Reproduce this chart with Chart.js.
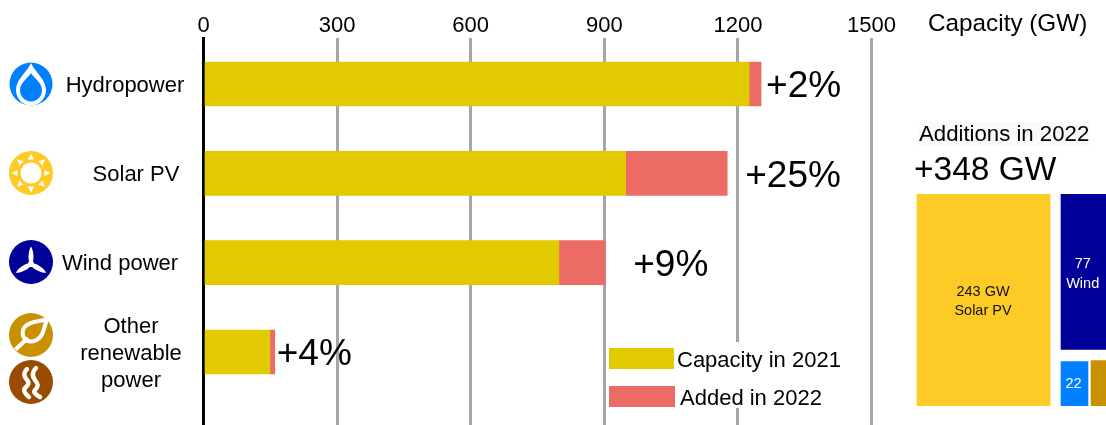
<!DOCTYPE html>
<html>
<head>
<meta charset="utf-8">
<script src="https://cdn.jsdelivr.net/npm/chart.js@4"></script>
<style>
  html, body { margin: 0; padding: 0; background: #fff; overflow: hidden; }
  body { position: relative; width: 1106px; height: 425px; font-family: "Liberation Sans", Arial, sans-serif; color: #000; }
  canvas { position: absolute; }
  #capacity { left: 0; top: 0; }
  #additions { left: 900px; top: 180px; }
  .text { position: absolute; white-space: nowrap; line-height: 1; }
  #legendBox { position: absolute; left: 609px; top: 342px; width: 236px; height: 66px; background: #fff; }
  .swatch { position: absolute; }
  svg.icon { position: absolute; left: 9px; width: 44px; height: 44px; }
</style>
</head>
<body>
<canvas id="capacity" width="1106" height="425"></canvas>

<svg class="icon" style="top:62px" viewBox="-22 -22 44 44">
  <circle r="21.5" fill="#0080ff"/>
  <path d="M0,-21 C3,-13 15,-5 15,6 C15,15 8,21.5 0,21.5 C-8,21.5 -15,15 -15,6 C-15,-5 -3,-13 0,-21 Z" fill="#fff"/>
  <path d="M0,-11 C3,-6 11,-1 11,6 C11,12.5 6,17.5 0,17.5 C-6,17.5 -11,12.5 -11,6 C-11,-1 -3,-6 0,-11 Z" fill="#0080ff"/>
</svg>
<svg class="icon" style="top:151px" viewBox="-22 -22 44 44">
  <circle r="22" fill="#fdca26"/>
  <circle r="10.5" fill="#fff"/>
  <g fill="#fff">
    <path d="M-3,-13.5 L3,-13.5 L0,-19.5 Z" transform="rotate(0)"/>
    <path d="M-3,-13.5 L3,-13.5 L0,-19.5 Z" transform="rotate(45)"/>
    <path d="M-3,-13.5 L3,-13.5 L0,-19.5 Z" transform="rotate(90)"/>
    <path d="M-3,-13.5 L3,-13.5 L0,-19.5 Z" transform="rotate(135)"/>
    <path d="M-3,-13.5 L3,-13.5 L0,-19.5 Z" transform="rotate(180)"/>
    <path d="M-3,-13.5 L3,-13.5 L0,-19.5 Z" transform="rotate(225)"/>
    <path d="M-3,-13.5 L3,-13.5 L0,-19.5 Z" transform="rotate(270)"/>
    <path d="M-3,-13.5 L3,-13.5 L0,-19.5 Z" transform="rotate(315)"/>
  </g>
</svg>
<svg class="icon" style="top:240px" viewBox="-22 -22 44 44">
  <circle r="22" fill="#000099"/>
  <g fill="#fff">
    <circle cy="2" r="3"/>
    <path d="M-1.6,-1 C-3.4,-7 -2.2,-14 0,-17.5 C2.2,-14 3.4,-7 1.6,-1 Z" transform="translate(0,2)"/>
    <path d="M-1.6,-1 C-3.4,-7 -2.2,-14 0,-17.5 C2.2,-14 3.4,-7 1.6,-1 Z" transform="translate(0,2) rotate(120)"/>
    <path d="M-1.6,-1 C-3.4,-7 -2.2,-14 0,-17.5 C2.2,-14 3.4,-7 1.6,-1 Z" transform="translate(0,2) rotate(240)"/>
  </g>
</svg>
<svg class="icon" style="top:313px" viewBox="-22 -22 44 44">
  <circle r="22" fill="#c99100"/>
  <path d="M15.5,-15.5 C8,-14 -6,-13 -8,-5 C-9.5,0 -7,5 -3,6 C4,8 10,3 12,-3 C13,-7 15,-11 15.5,-15.5 Z" fill="none" stroke="#fff" stroke-width="4"/>
  <path d="M-15.5,14.5 L-3,3" fill="none" stroke="#fff" stroke-width="4.2"/>
</svg>
<svg class="icon" style="top:360px" viewBox="-22 -22 44 44">
  <circle r="22" fill="#994c00"/>
  <path d="M-4,-13 C-8,-9 -7,-5 -4,-2 C-1,1 -3,3 -6,6 C-8,8 -6,12 -2,15" fill="none" stroke="#fff" stroke-width="4.4" stroke-linecap="round"/>
  <path d="M5,-14 C1,-10 1,-6 4,-2 C7,2 8,4 4,8 C2,10 4,12 9,15" fill="none" stroke="#fff" stroke-width="4.4" stroke-linecap="round"/>
</svg>

<div id="legendBox"></div>
<div class="swatch" style="left:609px;top:348px;width:65px;height:21px;background:#e2ca00"></div>
<div class="swatch" style="left:609px;top:386px;width:66px;height:21px;background:#ed6b65"></div>
<div class="text" style="left:677px;top:349px;font-size:22px">Capacity in 2021</div>
<div class="text" style="left:680px;top:387px;font-size:22px">Added in 2022</div>

<div class="text" style="left:928px;top:11px;font-size:24.3px">Capacity (GW)</div>
<div class="text" style="left:919px;top:122px;width:171px;height:24px;line-height:24px;font-size:22.2px;background:#fafafa">Additions in 2022</div>
<div class="text" style="left:914px;top:152px;font-size:33.5px">+348 GW</div>

<canvas id="additions" width="206" height="245"></canvas>

<script>
// Installed renewable capacity, in GW
const categories = ['Hydropower', 'Solar PV', 'Wind power', 'Other renewable power'];
const capacity2021 = [1225, 948, 798, 149];
const added2022 = [27, 228, 104, 11];
const growthLabels = ['+2%', '+25%', '+9%', '+4%'];

// Capacity added in 2022, in GW
const additionNames = ['Solar PV', 'Wind', 'Hydropower', 'Other'];
const additionValues = [243, 77, 22, 6];

const FONT = '"Liberation Sans", Arial, sans-serif';
const YELLOW = '#e2ca00', CORAL = '#ed6b65', GRID = '#a6a6a6';

// Category names to the left of the axis, one entry per drawn line
const nameLayout = [
  { centre: 125, lines: [categories[0]] },
  { centre: 136, lines: [categories[1]] },
  { centre: 120, lines: [categories[2]] },
  { centre: 131, lines: ['Other', 'renewable', 'power'] }
];
const growthGap = [5, 18, 28, 2];

const rowLabels = {
  id: 'rowLabels',
  afterDatasetsDraw(chart) {
    const { ctx, scales: { x, y } } = chart;
    ctx.save();
    ctx.fillStyle = '#000';
    ctx.textBaseline = 'middle';
    categories.forEach((_, i) => {
      const cy = y.getPixelForValue(i);
      ctx.font = '22px ' + FONT;
      ctx.textAlign = 'center';
      const { centre, lines } = nameLayout[i];
      lines.forEach((line, k) => {
        ctx.fillText(line, centre, cy + 1.5 + (k - (lines.length - 1) / 2) * 27);
      });
      ctx.font = '37px ' + FONT;
      ctx.textAlign = 'left';
      const end = x.getPixelForValue(capacity2021[i] + added2022[i]);
      ctx.fillText(growthLabels[i], end + growthGap[i], cy + 3);
    });
    ctx.restore();
  }
};

new Chart(document.getElementById('capacity'), {
  type: 'bar',
  plugins: [rowLabels],
  data: {
    datasets: [
      { label: 'Capacity in 2021', stack: 'total', backgroundColor: YELLOW,
        data: capacity2021.map((v, i) => ({ x: v, y: i })) },
      { label: 'Added in 2022', stack: 'total', backgroundColor: CORAL,
        data: added2022.map((v, i) => ({ x: v, y: i })) }
    ]
  },
  options: {
    indexAxis: 'y',
    responsive: false,
    animation: false,
    barThickness: 44,
    layout: { padding: { left: 203.5, right: 234.5, top: 0, bottom: 0 } },
    plugins: { legend: { display: false }, tooltip: { enabled: false } },
    scales: {
      x: {
        type: 'linear',
        position: 'top',
        stacked: true,
        min: 0,
        max: 1500,
        afterFit(scale) { scale.height = 38; },
        ticks: { stepSize: 300, color: '#000', padding: -1, maxRotation: 0,
                 callback: v => String(v),
                 font: { family: FONT, size: 22 } },
        grid: { color: GRID, lineWidth: 3, drawTicks: false },
        border: { display: false }
      },
      y: {
        type: 'linear',
        offset: false,
        bounds: 'data',
        stacked: true,
        reverse: true,
        min: -0.515,
        max: 3.817,
        z: 1,
        afterFit(scale) { scale.width = 0; },
        ticks: { display: false },
        grid: { display: false },
        border: { display: true, color: '#000', width: 3 }
      }
    }
  }
});

// Treemap of the 2022 additions: each cell is a floating bar on its own height scale
const cellLabels = {
  id: 'cellLabels',
  afterDatasetsDraw(chart) {
    const { ctx, scales: { x, solar, wind } } = chart;
    ctx.save();
    ctx.font = '14.5px ' + FONT;
    ctx.textAlign = 'center';
    ctx.textBaseline = 'middle';
    const solarMid = solar.getPixelForValue(additionValues[0] / 2);
    ctx.fillStyle = '#111';
    ctx.fillText(additionValues[0] + ' GW', x.getPixelForValue(83), solarMid - 8.5);
    ctx.fillText(additionNames[0], x.getPixelForValue(83), solarMid + 10.5);
    ctx.fillStyle = '#fff';
    const windMid = wind.getPixelForValue(28 + additionValues[1] / 2);
    ctx.fillText(String(additionValues[1]), x.getPixelForValue(182.7), windMid - 7.5);
    ctx.fillText(additionNames[1], x.getPixelForValue(182.7), windMid + 12);
    ctx.fillText(String(additionValues[2]), x.getPixelForValue(173.5), wind.getPixelForValue(additionValues[2] / 2));
    ctx.restore();
  }
};

new Chart(document.getElementById('additions'), {
  type: 'bar',
  plugins: [cellLabels],
  data: {
    datasets: [
      { label: additionNames[0], yAxisID: 'solar', backgroundColor: '#fdca26', barThickness: 133,
        data: [{ x: 83.5, y: [0, additionValues[0]] }] },
      { label: additionNames[1], yAxisID: 'wind', backgroundColor: '#000099', barThickness: 57,
        data: [{ x: 189.5, y: [28, 28 + additionValues[1]] }] },
      { label: additionNames[2], yAxisID: 'wind', backgroundColor: '#0080ff', barThickness: 27,
        data: [{ x: 174.5, y: [0, additionValues[2]] }] },
      { label: additionNames[3], yAxisID: 'lower', backgroundColor: '#c99100', barThickness: 27,
        data: [{ x: 204.5, y: [0, additionValues[3]] }] }
    ]
  },
  options: {
    responsive: false,
    animation: false,
    grouped: false,
    layout: { padding: { left: 0, right: 0, top: 14, bottom: 19 } },
    plugins: { legend: { display: false }, tooltip: { enabled: false } },
    scales: {
      x: { type: 'linear', offset: false, min: 0, max: 206, display: false },
      solar: { min: 0, max: 243, bounds: 'data', display: false },
      wind: { min: 0, max: 105, bounds: 'data', display: false },
      lower: { min: 0, max: 28, bounds: 'data', display: false }
    }
  }
});
</script>
</body>
</html>
